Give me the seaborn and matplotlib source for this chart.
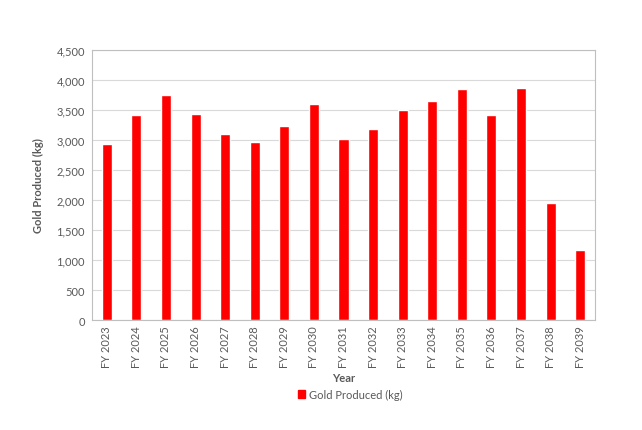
import pandas as pd
import matplotlib.pyplot as plt
import seaborn as sns
from matplotlib.ticker import FuncFormatter, MultipleLocator
from matplotlib.patches import Patch

years = ["FY 2023", "FY 2024", "FY 2025", "FY 2026", "FY 2027", "FY 2028",
         "FY 2029", "FY 2030", "FY 2031", "FY 2032", "FY 2033", "FY 2034",
         "FY 2035", "FY 2036", "FY 2037", "FY 2038", "FY 2039"]
gold_kg = [2940, 3420, 3755, 3440, 3105, 2972, 3238, 3605, 3022, 3177,
           3494, 3655, 3855, 3422, 3872, 1955, 1172]

df = pd.DataFrame({"Year": years, "Gold Produced (kg)": gold_kg})

sns.set_theme(style="white")
plt.rcParams['font.family'] = ['Lato', 'DejaVu Sans']

txt = "#595959"
fig = plt.figure(figsize=(6.42, 4.31), dpi=100)
ax = fig.add_axes([0.1433, 0.2552, 0.7835, 0.6265])

sns.barplot(data=df, x="Year", y="Gold Produced (kg)", color="#ff0000",
            width=0.34, saturation=1, ax=ax)

ax.set_ylim(0, 4500)
ax.set_xlim(-0.5, len(years) - 0.5)
ax.yaxis.set_major_locator(MultipleLocator(500))
ax.yaxis.set_major_formatter(FuncFormatter(lambda v, p: f"{int(v):,}"))
ax.grid(axis="y", color="#d9d9d9", linewidth=0.8)
ax.set_axisbelow(True)
for s in ax.spines.values():
    s.set_color("#bfbfbf")
    s.set_linewidth(0.8)

ax.tick_params(axis="x", rotation=90, labelsize=8, colors=txt, length=0, pad=4)
ax.tick_params(axis="y", labelsize=8, colors=txt, length=0, pad=5)
ax.set_xlabel("Year", fontsize=8, fontweight="bold", color=txt, labelpad=3)
ax.set_ylabel("Gold Produced (kg)", fontsize=8, fontweight="bold", color=txt, labelpad=9)

handles = [Patch(color="#ff0000", label="Gold Produced (kg)")]
leg = fig.legend(handles=handles, loc="center", bbox_to_anchor=(0.545, 0.082),
                 frameon=False, fontsize=8, handlelength=0.7, handleheight=0.7,
                 handletextpad=0.3)
for t in leg.get_texts():
    t.set_color(txt)

fig.savefig("out.png", dpi=100)
